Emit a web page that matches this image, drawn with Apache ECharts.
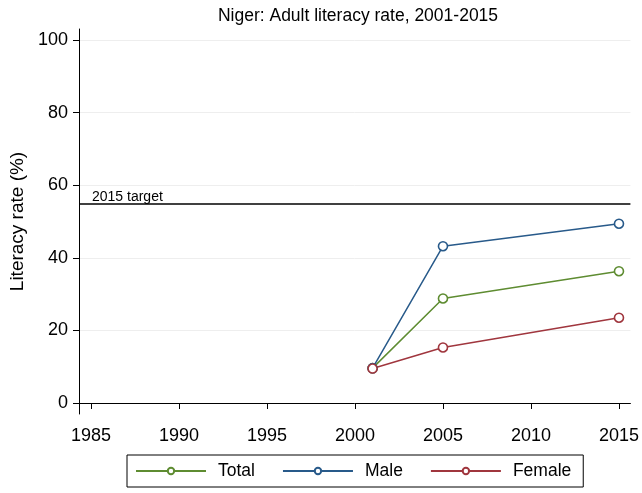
<!DOCTYPE html>
<html>
<head>
<meta charset="utf-8">
<script src="https://cdn.jsdelivr.net/npm/echarts@6/dist/echarts.min.js"></script>
<style>
  html, body { margin: 0; padding: 0; background: #fff; }
  #main { width: 642px; height: 493px; }
</style>
</head>
<body>
<div id="main"></div>
<script>
// 尼日尔成人识字率
const years = [2001, 2005, 2015];
const totalRate = [9.6, 28.8, 36.3];
const maleRate = [9.6, 43.2, 49.4];
const femaleRate = [9.5, 15.3, 23.5];
const targetRate = 55;
const xTicks = [1985, 1990, 1995, 2000, 2005, 2010, 2015];
const yTicks = [0, 20, 40, 60, 80, 100];

const font = 'Liberation Sans, Arial, sans-serif';

function pairs(vals) {
  return years.map((y, i) => [y, vals[i]]);
}

function lineSeries(name, vals, color) {
  return {
    name: name,
    type: 'line',
    data: pairs(vals),
    symbol: 'circle',
    symbolSize: 9,
    showSymbol: true,
    lineStyle: { width: 1.5, color: color },
    itemStyle: { color: '#fff', borderColor: color, borderWidth: 1.6 },
    emphasis: { disabled: true },
    z: 3
  };
}

const chart = echarts.init(document.getElementById('main'));
const series = [
  lineSeries('Total', totalRate, '#5e8c31'),
  lineSeries('Male', maleRate, '#285a8a'),
  lineSeries('Female', femaleRate, '#a0363e')
];
series[0].markLine = {
  silent: true,
  symbol: 'none',
  lineStyle: { color: '#000', width: 1.5, type: 'solid' },
  label: {
    show: true,
    position: 'insideStartTop',
    formatter: '2015 target',
    color: '#000',
    fontFamily: font,
    fontSize: 14,
    distance: [13, -1]
  },
  data: [{ yAxis: targetRate }]
};

chart.setOption({
  animation: false,
  title: {
    text: 'Niger: Adult literacy rate, 2001-2015',
    left: 353,
    textAlign: 'center',
    top: 2,
    textStyle: { fontFamily: font, fontSize: 17.5, fontWeight: 'normal', color: '#000' }
  },
  legend: {
    top: 455,
    left: 127,
    padding: [7, 12, 7, 8],
    borderColor: '#000',
    borderWidth: 1,
    itemWidth: 70,
    itemHeight: 8,
    itemGap: 27,
    textStyle: { fontFamily: font, fontSize: 17.5, color: '#000', padding: [0, 0, 0, 7] },
    data: ['Total', 'Male', 'Female']
  },
  grid: { left: 79, right: 11, top: 29, bottom: 79 },
  xAxis: {
    type: 'value',
    min: 1984.32,
    max: 2015.65,
    axisLine: { lineStyle: { color: '#000', width: 1 } },
    axisTick: { show: true, length: 6, customValues: xTicks, lineStyle: { color: '#000' } },
    axisLabel: {
      customValues: xTicks,
      formatter: v => String(v),
      color: '#000', fontFamily: font, fontSize: 18, margin: 13
    },
    splitLine: { show: false }
  },
  yAxis: {
    type: 'value',
    min: -3.03,
    max: 103.03,
    name: 'Literacy rate (%)',
    nameLocation: 'middle',
    nameGap: 50,
    nameTextStyle: { fontFamily: font, fontSize: 19, color: '#000' },
    axisLine: { show: true, lineStyle: { color: '#000', width: 1 } },
    axisTick: { show: true, length: 6, customValues: yTicks, lineStyle: { color: '#000' } },
    axisLabel: { customValues: yTicks, color: '#000', fontFamily: font, fontSize: 18, margin: 11 },
    splitLine: { show: true, lineStyle: { color: '#eeeeee', width: 1 } }
  },
  series: series
});
</script>
</body>
</html>
